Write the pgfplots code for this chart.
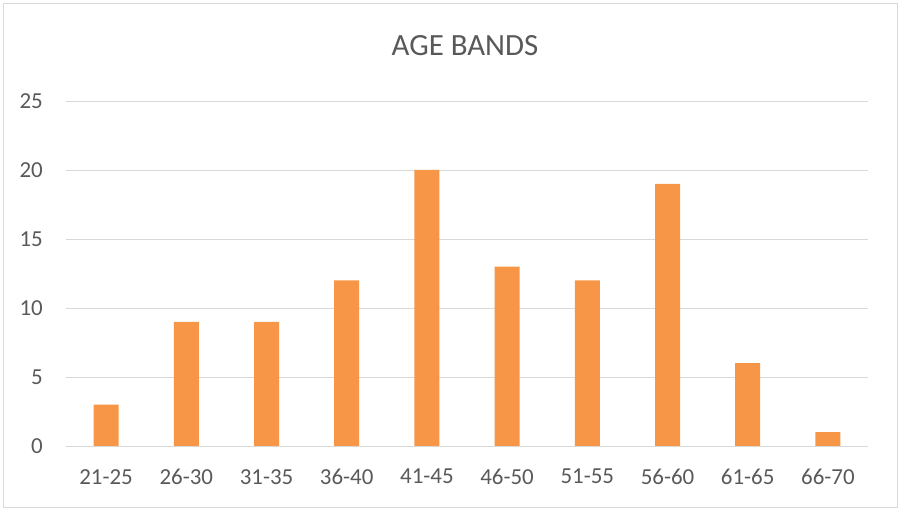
\documentclass[border=0pt]{standalone}
\usepackage{pgfplots}
\pgfplotsset{compat=1.18}
\usepackage{fontspec}
\setmainfont{Carlito}
\definecolor{barorange}{HTML}{F79646}
\definecolor{gridgray}{HTML}{D9D9D9}
\definecolor{txtgray}{HTML}{595959}
\begin{document}
\begin{tikzpicture}[x=1bp,y=1bp]
\path[use as bounding box] (0,0) rectangle (900,510);
\draw[gridgray, line width=0.75bp] (3,3) rectangle (897,507);
\node[text=txtgray, font=\fontsize{31}{37}\selectfont, inner sep=0pt, anchor=base] at (465,454) {AGE BANDS};
\begin{axis}[
  at={(66bp,64bp)},
  scale only axis, width=802bp, height=345bp,
  anchor=south west,
  xmin=-0.5, xmax=9.5, ymin=0, ymax=25,
  ytick={0,5,10,15,20,25},
  xtick={0,...,9},
  xticklabels={21-25,26-30,31-35,36-40,41-45,46-50,51-55,56-60,61-65,66-70},
  ymajorgrids, grid style={gridgray, line width=0.75bp},
  axis line style={draw=none},
  axis x line*=bottom,
  x axis line style={draw=gridgray, line width=0.75bp},
  tick style={draw=none},
  major tick length=0pt,
  ticklabel style={text=txtgray, font=\fontsize{23}{28}\selectfont, inner sep=0pt},
  /pgf/number format/assume math mode=true,
  yticklabel style={xshift=-23bp},
  xticklabel style={yshift=-23bp},
  clip=false,
]
\addplot[ybar, bar width=25bp, fill=barorange, draw=none] coordinates {
(0,3) (1,9) (2,9) (3,12) (4,20) (5,13) (6,12) (7,19) (8,6) (9,1)
};
\end{axis}
\end{tikzpicture}
\end{document}
